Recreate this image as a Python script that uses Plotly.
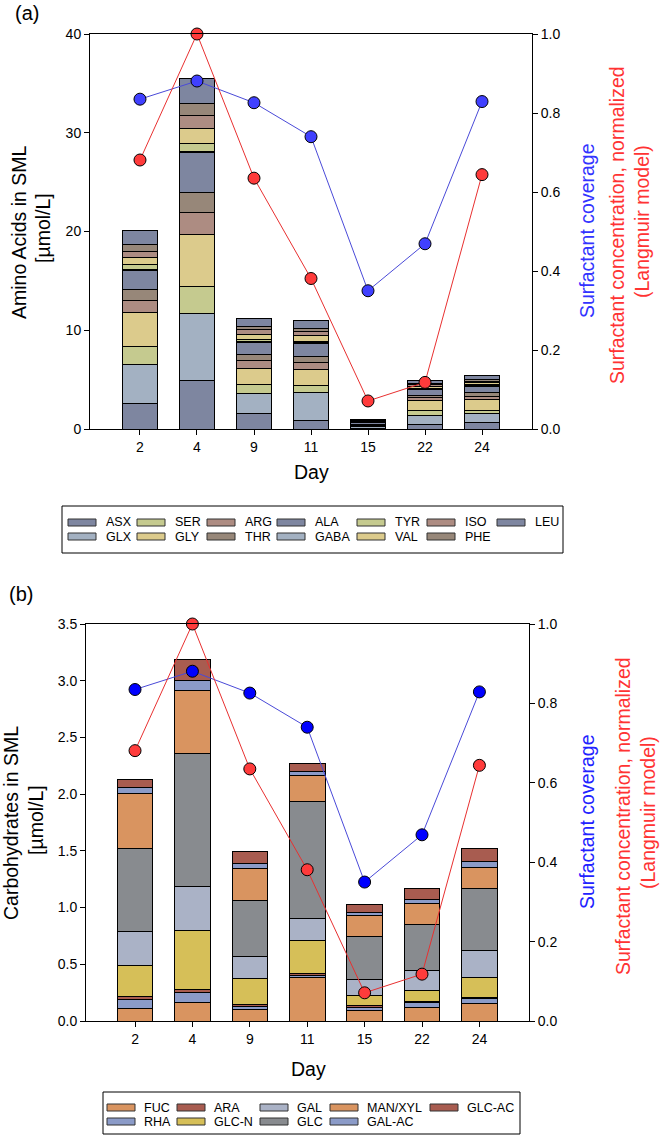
import plotly.graph_objects as go

W, H = 661, 1138

# ---------------- data ----------------
days = ["2", "4", "9", "11", "15", "22", "24"]

aa_names = ["ASX", "GLX", "SER", "GLY", "ARG", "THR", "ALA",
            "GABA", "TYR", "VAL", "ISO", "PHE", "LEU"]
asx  = [2.60, 4.96, 1.59, 0.91, 0.10, 0.50, 0.67]
glx  = [3.95, 6.75, 2.02, 2.80, 0.15, 0.85, 0.85]
ser  = [1.82, 2.77, 0.91, 0.71, 0.05, 0.51, 0.40]
gly  = [3.44, 5.23, 1.62, 1.62, 0.10, 1.01, 1.08]
arg  = [1.19, 2.23, 0.75, 0.68, 0.05, 0.30, 0.34]
thr  = [1.14, 2.03, 0.67, 0.67, 0.05, 0.27, 0.37]
ala  = [1.93, 4.06, 1.18, 1.25, 0.15, 0.51, 0.58]
gaba = [0.05, 0.05, 0.17, 0.14, 0.02, 0.10, 0.10]
tyr  = [0.50, 0.85, 0.17, 0.13, 0.03, 0.10, 0.10]
val  = [0.70, 1.52, 0.54, 0.51, 0.08, 0.20, 0.20]
iso  = [0.70, 1.31, 0.41, 0.50, 0.05, 0.15, 0.15]
phe  = [0.70, 1.22, 0.40, 0.28, 0.05, 0.15, 0.18]
leu  = [1.40, 2.50, 0.78, 0.80, 0.12, 0.30, 0.35]
aa_values = [asx, glx, ser, gly, arg, thr, ala, gaba, tyr, val, iso, phe, leu]

ch_names = ["FUC", "RHA", "ARA", "GLC-N", "GAL", "GLC", "MAN/XYL", "GAL-AC", "GLC-AC"]
fuc   = [0.110, 0.165, 0.100, 0.385, 0.097, 0.118, 0.156]
rha   = [0.080, 0.090, 0.025, 0.018, 0.021, 0.044, 0.041]
ara   = [0.030, 0.025, 0.020, 0.012, 0.020, 0.012, 0.012]
glcn  = [0.270, 0.520, 0.230, 0.297, 0.086, 0.094, 0.176]
gal   = [0.300, 0.390, 0.195, 0.191, 0.141, 0.179, 0.233]
glc   = [0.730, 1.165, 0.494, 1.035, 0.379, 0.406, 0.553]
manxyl= [0.490, 0.560, 0.282, 0.227, 0.185, 0.185, 0.185]
galac = [0.050, 0.090, 0.044, 0.032, 0.030, 0.036, 0.050]
glcac = [0.070, 0.180, 0.103, 0.077, 0.070, 0.097, 0.118]
ch_values = [fuc, rha, ara, glcn, gal, glc, manxyl, galac, glcac]

coverage      = [0.835, 0.881, 0.826, 0.740, 0.350, 0.469, 0.829]
concentration = [0.681, 1.000, 0.635, 0.381, 0.071, 0.118, 0.644]

# ---------------- styles ----------------
aa_palette = ["#7e86a0", "#a3b1c2", "#c5ca8f", "#dccb8c", "#ad8c82", "#978779"]
aa_colors = [aa_palette[i % 6] for i in range(len(aa_names))]
ch_colors = ["#d99460", "#8b9bc8", "#a85c50", "#d6bf58", "#aab2c6",
             "#888b8f", "#d99460", "#8b9bc8", "#a85c50"]

FONT = "Arial, Liberation Sans, sans-serif"
BLUE_TXT = "#3333ff"
RED_TXT = "#ff3333"


def px(x):
    return x / W


def py(y):
    return 1 - y / H


fig = go.Figure()

# ---------------- panel (a) ----------------
for name, vals, col in zip(aa_names, aa_values, aa_colors):
    fig.add_trace(go.Bar(x=days, y=vals, name=name, marker_color=col,
                         marker_line_color="black", marker_line_width=1,
                         width=0.6, xaxis="x", yaxis="y", showlegend=False))

# ---------------- panel (b) ----------------
for name, vals, col in zip(ch_names, ch_values, ch_colors):
    fig.add_trace(go.Bar(x=days, y=vals, name=name, marker_color=col,
                         marker_line_color="black", marker_line_width=1,
                         width=0.62, xaxis="x2", yaxis="y3", showlegend=False))

# lines
for xa, ya, bcol in [("x", "y2", "#4040ff"), ("x2", "y4", "#0000ff")]:
    fig.add_trace(go.Scatter(x=days, y=coverage, mode="lines+markers",
                             line=dict(color="#4a4ad8", width=1),
                             marker=dict(size=12, color=bcol, line=dict(color="black", width=1)),
                             xaxis=xa, yaxis=ya, showlegend=False, cliponaxis=False,
                             name="Surfactant coverage"))
    fig.add_trace(go.Scatter(x=days, y=concentration, mode="lines+markers",
                             line=dict(color="#e83030", width=1),
                             marker=dict(size=12, color="#ff3b3b", line=dict(color="black", width=1)),
                             xaxis=xa, yaxis=ya, showlegend=False, cliponaxis=False,
                             name="Surfactant concentration"))

tickfont = dict(family=FONT, size=14, color="black")
common_x = dict(type="category", showline=True, linecolor="black", linewidth=1,
                mirror=True, ticks="outside", ticklen=5, tickcolor="black",
                showgrid=False, zeroline=False, tickfont=tickfont, automargin=False)
common_y = dict(showline=True, linecolor="black", linewidth=1, ticks="outside",
                ticklen=5, tickcolor="black", showgrid=False, zeroline=False,
                tickfont=tickfont, automargin=False)

fig.update_layout(
    width=W, height=H,
    margin=dict(l=0, r=0, t=0, b=0),
    paper_bgcolor="white", plot_bgcolor="white",
    barmode="stack", bargap=0.4,
    font=dict(family=FONT, color="black"),
    xaxis=dict(common_x, domain=[px(90), px(532)], range=[-0.877, 6.877], anchor="y"),
    yaxis=dict(common_y, domain=[py(429), py(34)], range=[0, 40], dtick=10, anchor="x"),
    yaxis2=dict(common_y, overlaying="y", side="right", range=[0, 1], dtick=0.2,
                tickformat=".1f", anchor="x"),
    xaxis2=dict(common_x, domain=[px(86), px(529)], range=[-0.854, 6.864], anchor="y3"),
    yaxis3=dict(common_y, domain=[py(1021), py(624)], range=[0, 3.5], dtick=0.5,
                tickformat=".1f", anchor="x2"),
    yaxis4=dict(common_y, overlaying="y3", side="right", range=[0, 1], dtick=0.2,
                tickformat=".1f", anchor="x2"),
)

ann = []
shapes = []


def text(x, y, s, size, color="black", angle=0, xanchor="center"):
    ann.append(dict(x=px(x), y=py(y), xref="paper", yref="paper", text=s,
                    showarrow=False, textangle=angle, xanchor=xanchor, yanchor="middle",
                    font=dict(family=FONT, size=size, color=color)))


# panel labels
text(27, 13, "(a)", 20)
text(21, 594, "(b)", 20)

# axis titles
text(19, 232, "Amino Acids in SML", 19.5, angle=-90)
text(43, 228, "[µmol/L]", 19.5, angle=-90)
text(11, 823, "Carbohydrates in SML", 19.5, angle=-90)
text(36, 820, "[µmol/L]", 19.5, angle=-90)
text(311, 472, "Day", 19.5)
text(308, 1069, "Day", 19.5)

text(587, 231, "Surfactant coverage", 19.5, BLUE_TXT, -90)
text(617, 225, "Surfactant concentration, normalized", 19.5, RED_TXT, -90)
text(642, 222, "(Langmuir model)", 19.5, RED_TXT, -90)
text(587, 822, "Surfactant coverage", 19.5, "#2222ff", -90)
text(623, 816, "Surfactant concentration, normalized", 19.5, RED_TXT, -90)
text(648, 813, "(Langmuir model)", 19.5, RED_TXT, -90)


# legends (built from the name / colour lists)
def legend(names, colors, col_x, row_y, box, text_off):
    x0, y0, x1, y1 = box
    shapes.append(dict(type="rect", xref="paper", yref="paper",
                       x0=px(x0), x1=px(x1), y0=py(y1), y1=py(y0),
                       line=dict(color="black", width=1), fillcolor="white"))
    for i, (n, c) in enumerate(zip(names, colors)):
        cx = col_x[i // 2]
        cy = row_y[i % 2]
        shapes.append(dict(type="rect", xref="paper", yref="paper",
                           x0=px(cx), x1=px(cx + 28), y0=py(cy + 3.5), y1=py(cy - 3.5),
                           line=dict(color="#333333", width=1), fillcolor=c))
        text(cx + text_off, cy, n, 12.5, xanchor="left")


legend(aa_names, aa_colors, [68, 137, 207, 277, 357, 427, 497], [522.5, 536.5],
       (62, 506, 563, 553), 36)
legend(ch_names, ch_colors, [107, 177, 260, 330, 430], [1107.5, 1121.5],
       (103, 1092, 520, 1134), 35)

fig.update_layout(annotations=ann, shapes=shapes)

fig.write_html("out.html", config={"displayModeBar": False},
               post_script="document.body.style.margin='0px';document.body.style.overflow='hidden';")
